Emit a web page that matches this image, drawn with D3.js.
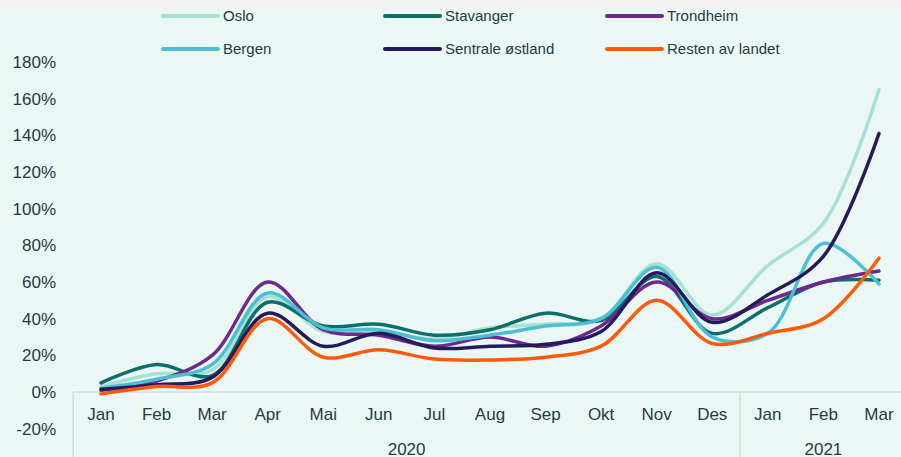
<!DOCTYPE html>
<meta charset="utf-8">
<style>
body { margin: 0; background: #ebf7f4; }
text { font-family: "Liberation Sans", Arial, sans-serif; fill: #243c44; }
</style>
<body>
<svg width="901" height="457"></svg>
<script src="https://d3js.org/d3.v7.min.js"></script>
<script>
var svg = d3.select("svg"),
    width = +svg.attr("width"),
    height = +svg.attr("height");

// categories (months, two years)
var months = ["Jan","Feb","Mar","Apr","Mai","Jun","Jul","Aug","Sep","Okt","Nov","Des","Jan","Feb","Mar"];
var years = ["2020","2020","2020","2020","2020","2020","2020","2020","2020","2020","2020","2020","2021","2021","2021"];
var yTicks = [-20, 0, 20, 40, 60, 80, 100, 120, 140, 160, 180];

// series values in percent
var oslo      = [3, 10, 12, 52, 33, 33, 29, 35, 37, 40, 70, 42, 69, 92, 165];
var stavanger = [5, 15, 9, 49, 36, 37, 31, 34, 43, 39, 63, 32, 46, 60, 61];
var trondheim = [1, 6, 20, 60, 34, 31, 25, 30, 25, 36, 60, 40, 50, 60, 66];
var bergen    = [2, 7, 15, 54, 35, 34, 28, 31, 36, 40, 68, 30, 32, 81, 59];
var sentrale  = [1.5, 4, 8, 43, 25, 32, 24, 25, 26, 33, 65, 38, 53, 74, 141];
var resten    = [-1, 3, 5, 40, 19, 23, 18, 17.5, 19, 25, 50, 26.5, 32, 40, 73];

var series = [
  {name: "Oslo", values: oslo, color: "#a6e1d1"},
  {name: "Stavanger", values: stavanger, color: "#0d6f6b"},
  {name: "Trondheim", values: trondheim, color: "#6c2a8c"},
  {name: "Bergen", values: bergen, color: "#4cbfd5"},
  {name: "Sentrale østland", values: sentrale, color: "#251b5c"},
  {name: "Resten av landet", values: resten, color: "#ff5a0a"}
];

// grey strip at the top
svg.append("rect")
  .attr("width", width).attr("height", 9)
  .style("fill", "#f2f2f2");

var keys = months.map(function(m, i) { return years[i] + "-" + m; });

var x = d3.scaleBand()
  .domain(keys)
  .range([73.2, 73.2 + 15 * 55.57]);

var y = d3.scaleLinear()
  .domain([-20, 180])
  .range([428.7, 62]);

// y tick labels
svg.append("g").selectAll("text")
  .data(yTicks)
  .enter().append("text")
  .attr("x", 56)
  .attr("y", function(d) { return y(d) + 6; })
  .attr("text-anchor", "end")
  .style("font-size", "17px")
  .text(function(d) { return d + "%"; });

// axis line and separators
svg.append("line")
  .attr("x1", x.range()[0]).attr("x2", width)
  .attr("y1", y(0)).attr("y2", y(0))
  .style("stroke", "#d9dcdc").style("stroke-width", 1.5);

var seps = [keys[0], keys[12]];
svg.append("g").selectAll("line")
  .data(seps)
  .enter().append("line")
  .attr("x1", function(d) { return x(d); })
  .attr("x2", function(d) { return x(d); })
  .attr("y1", y(0)).attr("y2", height)
  .style("stroke", "#d9dcdc").style("stroke-width", 1.5);

// month labels
svg.append("g").selectAll("text")
  .data(keys)
  .enter().append("text")
  .attr("x", function(d) { return x(d) + x.bandwidth() / 2; })
  .attr("y", 420)
  .attr("text-anchor", "middle")
  .style("font-size", "17px")
  .text(function(d, i) { return months[i]; });

// year labels
var yearGroups = [
  {label: "2020", from: keys[0], to: keys[11]},
  {label: "2021", from: keys[12], to: keys[14]}
];
svg.append("g").selectAll("text")
  .data(yearGroups)
  .enter().append("text")
  .attr("x", function(d) { return (x(d.from) + x(d.to) + x.bandwidth()) / 2; })
  .attr("y", 455)
  .attr("text-anchor", "middle")
  .style("font-size", "17px")
  .text(function(d) { return d.label; });

// lines
var line = d3.line()
  .x(function(d, i) { return x(keys[i]) + x.bandwidth() / 2; })
  .y(function(d) { return y(d); })
  .curve(d3.curveCatmullRom);

svg.append("g").selectAll("path")
  .data(series)
  .enter().append("path")
  .attr("d", function(d) { return line(d.values); })
  .style("fill", "none")
  .style("stroke", function(d) { return d.color; })
  .style("stroke-width", 3.5)
  .style("stroke-linecap", "round")
  .style("stroke-linejoin", "round");

// legend, 3 columns x 2 rows
var legendX = [163, 385, 607],
    legendY = [16, 49];
var legend = svg.append("g").selectAll("g")
  .data(series)
  .enter().append("g")
  .attr("transform", function(d, i) {
    return "translate(" + legendX[i % 3] + "," + legendY[Math.floor(i / 3)] + ")";
  });

legend.append("line")
  .attr("x1", 0).attr("x2", 55)
  .style("stroke", function(d) { return d.color; })
  .style("stroke-width", 4)
  .style("stroke-linecap", "round");

legend.append("text")
  .attr("x", 60)
  .attr("y", 5)
  .style("font-size", "15px")
  .text(function(d) { return d.name; });
</script>
</body>
</html>
